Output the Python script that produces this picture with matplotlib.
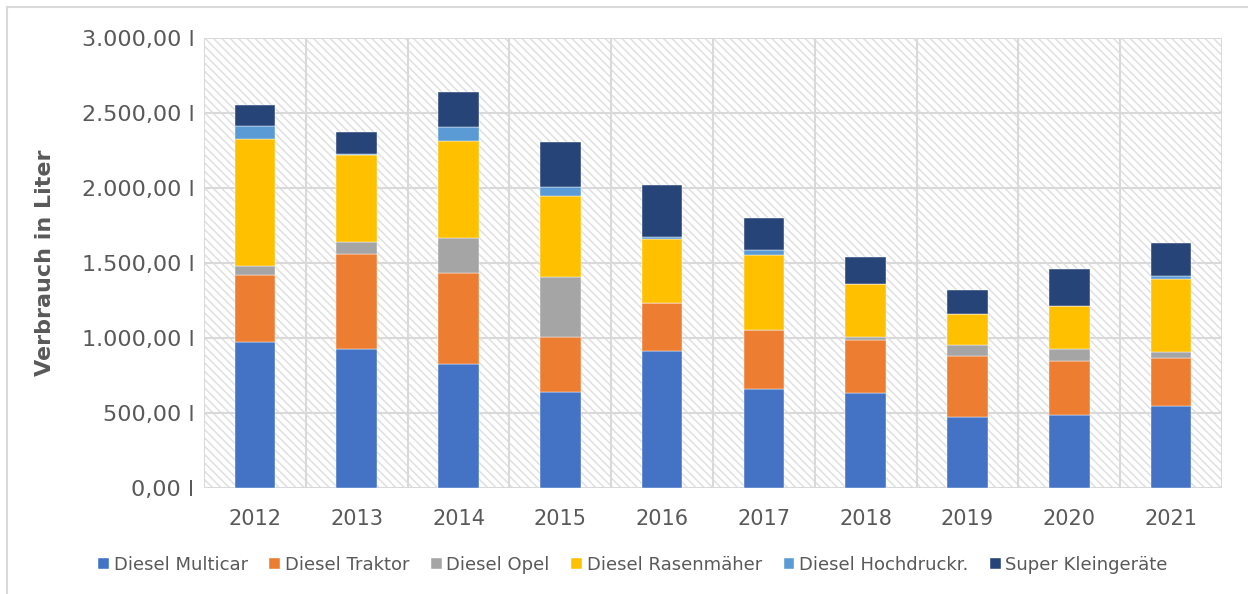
import matplotlib
matplotlib.use("Agg")
import matplotlib.pyplot as plt
from matplotlib.patches import Rectangle
import numpy as np

# Verbrauch je Jahr (Liter)
years = ["2012", "2013", "2014", "2015", "2016", "2017", "2018", "2019", "2020", "2021"]
multicar = [973, 929, 827, 642, 911, 658, 631, 473, 489, 549]
traktor = [447, 633, 604, 365, 320, 395, 353, 409, 360, 318]
opel = [62, 80, 238, 400, 0, 0, 20, 71, 78, 40]
rasenmaeher = [842, 578, 644, 537, 429, 500, 356, 207, 284, 486]
hochdruck = [89, 7, 91, 60, 11, 34, 0, 0, 0, 20]
kleingeraete = [140, 144, 238, 300, 349, 215, 178, 158, 249, 218]

series_names = ["Diesel Multicar", "Diesel Traktor", "Diesel Opel",
                "Diesel Rasenmäher", "Diesel Hochdruckr.", "Super Kleingeräte"]
series_values = [multicar, traktor, opel, rasenmaeher, hochdruck, kleingeraete]
colors = ["#4472C4", "#ED7D31", "#A5A5A5", "#FFC000", "#5B9BD5", "#264478"]

TXT = "#595959"
GRID = "#d9d9d9"

plt.rcParams["font.family"] = ["DejaVu Sans"]
plt.rcParams["hatch.color"] = "#e0e0e0"
plt.rcParams["hatch.linewidth"] = 1.1

fig = plt.figure(figsize=(12.48, 5.94), dpi=100)
ax = fig.add_axes([204 / 1248, 1 - 488 / 594, 1018 / 1248, 450 / 594])

# schraffierter Hintergrund der Zeichenfläche
ax.add_patch(Rectangle((0, 0), 1, 1, transform=ax.transAxes, facecolor="white",
                       edgecolor="#e0e0e0", lw=0, hatch="\\\\\\\\", zorder=0.1))

x = np.arange(len(years))
bottom = np.zeros(len(years))
for name, vals, col in zip(series_names, series_values, colors):
    ax.bar(x, vals, width=0.4, bottom=bottom, color=col, label=name,
           edgecolor="white", linewidth=0.3, zorder=2)
    bottom += np.array(vals)

ax.set_xlim(-0.5, 9.5)
ax.set_ylim(0, 3000)
ax.set_yticks(np.arange(0, 3001, 500))
ax.set_yticklabels([f"{v:,.2f} l".replace(",", "X").replace(".", ",").replace("X", ".")
                    for v in np.arange(0, 3001, 500)])
ax.set_xticks(x)
ax.set_xticklabels(years)
ax.set_xticks(np.arange(-0.5, 10, 1), minor=True)

ax.grid(axis="y", which="major", color=GRID, lw=1.5, zorder=0.5)
ax.grid(axis="x", which="minor", color=GRID, lw=1.5, zorder=0.5)
ax.set_axisbelow(True)
for s in ax.spines.values():
    s.set_visible(False)

ax.tick_params(axis="both", which="both", length=0, colors=TXT)
ax.tick_params(axis="y", labelsize=16, pad=7)
ax.tick_params(axis="x", labelsize=15, pad=15)

ax.set_ylabel("Verbrauch in Liter", fontsize=16, fontweight="bold", color=TXT)
ax.yaxis.set_label_coords(-0.146, 0.5)

leg = fig.legend(loc="center", bbox_to_anchor=(633 / 1248, 1 - 565 / 594), ncol=6,
                 frameon=False, fontsize=13, handlelength=0.6, handleheight=0.6,
                 handletextpad=0.25, columnspacing=1.2)
for t in leg.get_texts():
    t.set_color(TXT)

# Rahmen des Diagramms (links und oben sichtbar)
fig.add_artist(plt.Line2D([7 / 1248, 7 / 1248], [0, 1 - 7 / 594], color=GRID, lw=1.5))
fig.add_artist(plt.Line2D([7 / 1248, 1], [1 - 7 / 594, 1 - 7 / 594], color=GRID, lw=1.5))

fig.savefig("out.png", dpi=100)
